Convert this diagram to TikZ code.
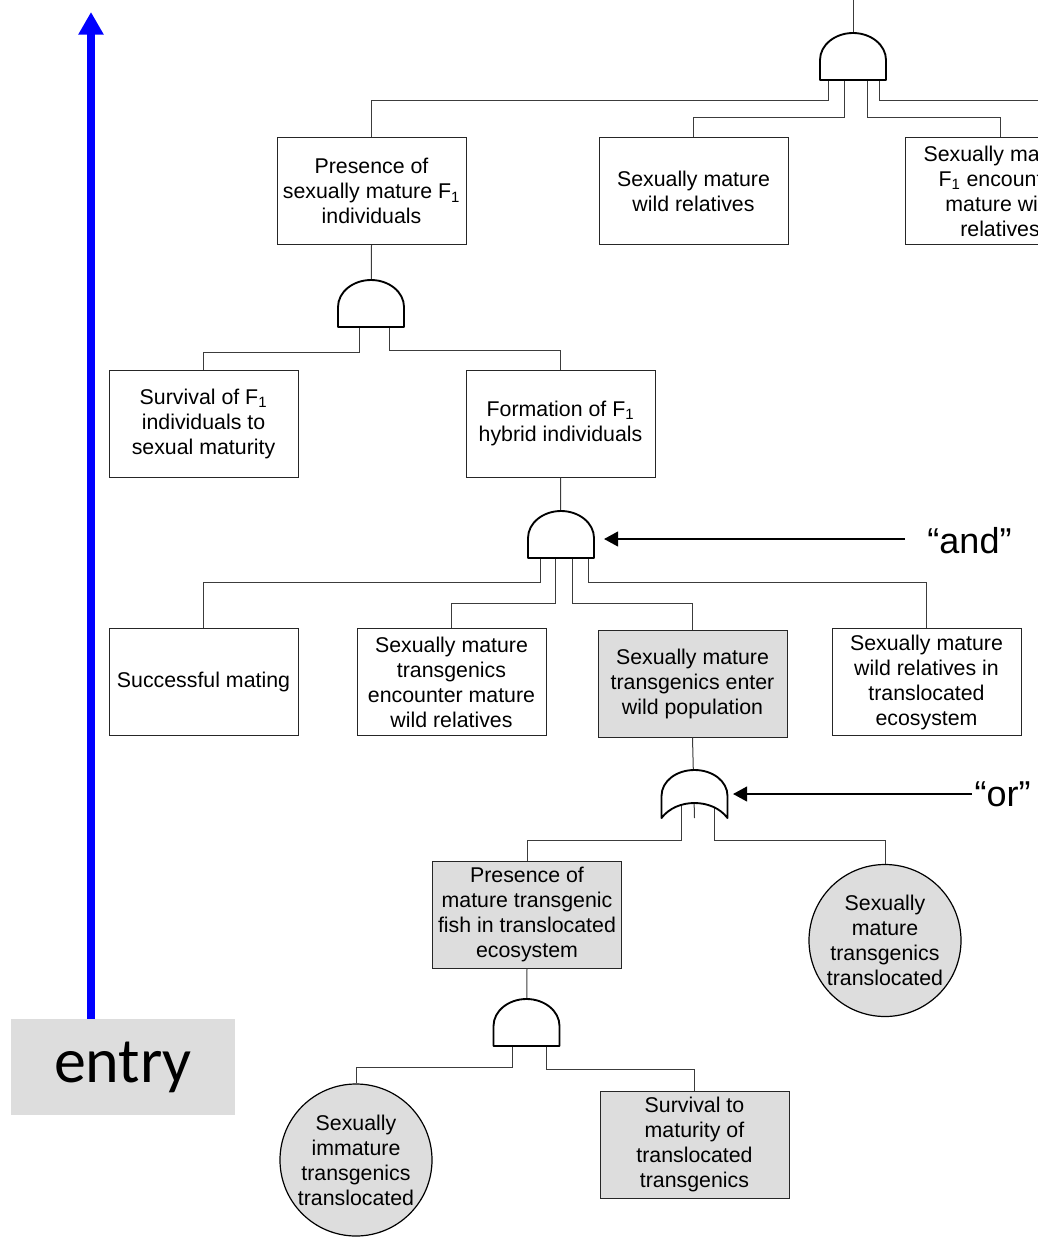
\documentclass[tikz,border=0pt]{standalone}
\usepackage{fontspec}
\setmainfont{Liberation Sans}
\newfontfamily\entryfont{Carlito}
\usetikzlibrary{arrows.meta,calc}
\definecolor{fillgray}{RGB}{221,221,221}
\definecolor{wiregray}{RGB}{60,60,60}
\definecolor{pureblue}{RGB}{0,0,255}
\begin{document}
\begin{tikzpicture}[x=0.75pt,y=-0.75pt,
  event/.style={draw=black!85, line width=0.75pt, fill=white,
    minimum width=141.75pt, minimum height=80.25pt, inner sep=0pt,
    align=center, font=\fontsize{16}{18.75}\selectfont},
  shaded/.style={event, fill=fillgray},
  basic/.style={circle, draw=black, line width=0.9pt, fill=fillgray,
    minimum size=114pt, inner sep=0pt, align=center,
    font=\fontsize{16}{18.75}\selectfont},
  wire/.style={draw=wiregray, line width=0.75pt},
  gateline/.style={draw=black, line width=1.4pt, fill=white, line join=round},
  pointer/.style={draw=black, line width=1.5pt, -{Triangle[length=10.5pt,width=11pt]}},
  callout/.style={font=\fontsize{27}{27}\selectfont, inner ysep=0pt},
  bluearrow/.style={draw=pureblue, line width=6pt, -{Triangle[length=17pt,width=18pt]}},
  andgate/.pic={
    \path[gateline] (-33,0) -- (-33,-20)
      .. controls (-33,-35) and (-18,-47) .. (0,-47)
      .. controls (18,-47) and (33,-35) .. (33,-20) -- (33,0) -- cycle;
    \coordinate (-top) at (0,-47);
  },
  orgate/.pic={
    \path[gateline] (-33,0) -- (-33,-22)
      .. controls (-33,-37) and (-18,-48) .. (0,-48)
      .. controls (18,-48) and (33,-37) .. (33,-22) -- (33,0)
      .. controls (18,-20) and (-18,-20) .. (-33,0) -- cycle;
    \coordinate (-top) at (0,-48);
  }
]
\useasboundingbox (0,0) rectangle (1038,1239);
\clip (0,0) rectangle (1038,1239);

% events
\node[event] (b1) at (371.5,191) {Presence of\\sexually mature F\textsubscript{1}\\individuals};
\node[event] (b2) at (693.5,191) {Sexually mature\\wild relatives};
\node[event] (b3) at (1000,191) {Sexually mature\\F\textsubscript{1} encounter\\mature wild\\relatives};
\node[event] (b4) at (203.5,423.5) {Survival of F\textsubscript{1}\\individuals to\\sexual maturity};
\node[event] (b5) at (560.5,423.5) {Formation of F\textsubscript{1}\\hybrid individuals};
\node[event] (b6) at (203.5,682) {Successful mating};
\node[event] (b7) at (451.5,682) {Sexually mature\\transgenics\\encounter mature\\wild relatives};
\node[shaded] (b8) at (692.5,683.5) {Sexually mature\\transgenics enter\\wild population};
\node[event] (b9) at (926.5,682) {Sexually mature\\wild relatives in\\translocated\\ecosystem};
\node[shaded] (b10) at (527,914.5) {Presence of\\mature transgenic\\fish in translocated\\ecosystem};
\node[basic] (c1) at (885,940.5) {Sexually\\mature\\transgenics\\translocated};
\node[basic] (c2) at (356,1160) {Sexually\\immature\\transgenics\\translocated};
\node[shaded] (b13) at (694.5,1144.5) {Survival to\\maturity of\\translocated\\transgenics};

% gate positions (centre of the base)
\coordinate (g1) at (853,80);
\coordinate (g2) at (371,327);
\coordinate (g3) at (561,558);
\coordinate (g5) at (694.5,818);
\coordinate (g4) at (526.5,1046);
\coordinate (topin) at (853,-5);
\coordinate (offright) at (1045,100);

% wiring
\draw[wire] (topin) -- (g1);
\draw[wire] ($(g1)+(-25,0)$) -- ++(0,20) -| (b1.north);
\draw[wire] ($(g1)+(-9,0)$) -- ++(0,37) -| (b2.north);
\draw[wire] ($(g1)+(14,0)$) -- ++(0,37) -| (b3.north);
\draw[wire] ($(g1)+(26,0)$) |- (offright);

\draw[wire] (b1.south) -- (g2);
\draw[wire] ($(g2)+(-12,0)$) -- ++(0,25) -| (b4.north);
\draw[wire] ($(g2)+(18,0)$) -- ++(0,23) -| (b5.north);

\draw[wire] (b5.south) -- (g3);
\draw[wire] ($(g3)+(-21,0)$) -- ++(0,24) -| (b6.north);
\draw[wire] ($(g3)+(-6,0)$) -- ++(0,45) -| (b7.north);
\draw[wire] ($(g3)+(11,0)$) -- ++(0,45) -| (b8.north);
\draw[wire] ($(g3)+(27,0)$) -- ++(0,24) -| (b9.north);

\draw[wire] (b8.south) -- (g5);
\draw[wire] ($(g5)+(-13.5,-14)$) -- ++(0,36) -| (b10.north);
\draw[wire] ($(g5)+(19.5,-14)$) -- ++(0,36) -| (c1.north);

\draw[wire] (b10.south) -- (g4);
\draw[wire] ($(g4)+(-14.5,0)$) -- ++(0,21) -| (c2.north);
\draw[wire] ($(g4)+(19.5,0)$) -- ++(0,23) -| (b13.north);

% gates
\pic (G1) at (g1) {andgate};
\pic (G2) at (g2) {andgate};
\pic (G3) at (g3) {andgate};
\pic (G5) at (g5) {orgate};
\pic (G4) at (g4) {andgate};

% callouts
\coordinate (andtip) at (604,539);
\coordinate (ortip) at (733,794);
\node[callout, inner xsep=16.5pt] (andlbl) at (969.5,541) {“and”};
\node[callout, inner xsep=2pt] (orlbl) at (1002.5,794) {“or”};
\draw[pointer] (andlbl.west |- andtip) -- (andtip);
\draw[pointer] (orlbl.west |- ortip) -- (ortip);

% entry
\node[fill=fillgray, minimum width=168pt, minimum height=72pt, inner sep=0pt,
  font=\entryfont\fontsize{48}{48}\selectfont] (entry) at (123,1067) {entry};
\coordinate (uptip) at (91,12);
\draw[bluearrow] (entry.north -| uptip) -- (uptip);
\end{tikzpicture}
\end{document}
